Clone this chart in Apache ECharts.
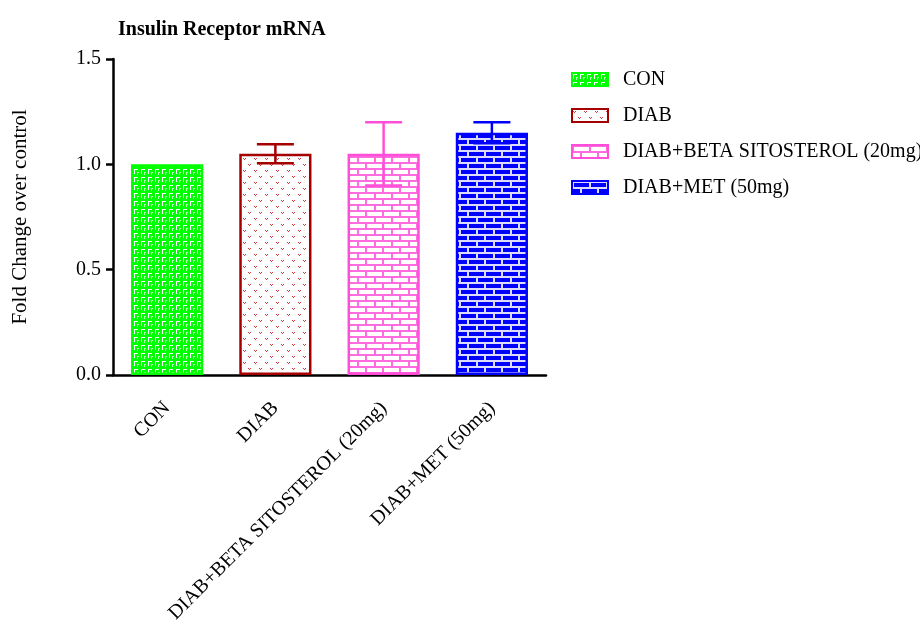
<!DOCTYPE html>
<html>
<head>
<meta charset="utf-8">
<script src="https://cdn.jsdelivr.net/npm/echarts@6/dist/echarts.min.js"></script>
<style>
  html, body { margin: 0; padding: 0; background: #ffffff; }
  #chart { width: 920px; height: 640px; }
</style>
</head>
<body>
<div id="chart"></div>
<script>
// Groups, mean fold change and SEM for insulin receptor mRNA
const categories = ['CON', 'DIAB', 'DIAB+BETA SITOSTEROL (20mg)', 'DIAB+MET (50mg)'];
const means = [1.00, 1.05, 1.05, 1.15];
const sems = [0.00, 0.045, 0.15, 0.05];
const yTicks = [0, 0.5, 1.0, 1.5];

const edgeColors = ['#00ff00', '#a50000', '#ff4fd8', '#0000ff'];
const FONT = '"Liberation Serif", "Times New Roman", serif';

function makeTile(w, h, draw) {
  const c = document.createElement('canvas');
  c.width = w; c.height = h;
  draw(c.getContext('2d'));
  return { image: c, repeat: 'repeat' };
}

// Green: small white hooked dashes on solid green
const greenFill = makeTile(7, 8, g => {
  g.fillStyle = '#00ff00'; g.fillRect(0, 0, 7, 8);
  g.fillStyle = '#ffffff';
  g.fillRect(1, 1, 4, 1);
  g.fillRect(1, 2, 1, 4);
  g.fillStyle = 'rgba(255,255,255,0.7)';
  g.fillRect(4, 4, 2, 1);
  g.fillRect(4, 5, 1, 2);
});

// Dark red: small red "v" marks on white, staggered rows
const redFill = makeTile(11, 12, g => {
  g.fillStyle = '#ffffff'; g.fillRect(0, 0, 11, 12);
  g.fillStyle = '#d23a3a';
  const v = (x, y) => {
    g.fillRect(x, y, 1, 1); g.fillRect(x + 2, y, 1, 1); g.fillRect(x + 1, y + 1, 1, 1);
  };
  v(1, 2); v(6, 8);
});

// Brick pattern helper
function brick(bg, line, lw) {
  return makeTile(34, 12, g => {
    g.fillStyle = bg; g.fillRect(0, 0, 34, 12);
    g.fillStyle = line;
    g.fillRect(0, 0, 34, lw);
    g.fillRect(0, 6, 34, lw);
    g.fillRect(0, 0, lw, 6);
    g.fillRect(17, 0, lw, 6);
    g.fillRect(8, 6, lw, 6);
    g.fillRect(25, 6, lw, 6);
  });
}
const pinkFill = brick('#ffffff', '#ff6ce0', 2);
const blueFill = brick('#0000ff', '#dcdcff', 2);
const fills = [greenFill, redFill, pinkFill, blueFill];

const barSeries = categories.map((name, i) => ({
  name: name,
  type: 'bar',
  barWidth: '66.7%',
  barGap: '-100%',
  data: categories.map((_, j) => (j === i ? means[j] : null)),
  itemStyle: {
    color: fills[i],
    borderColor: edgeColors[i],
    borderWidth: 2.5
  },
  z: 2
}));

const errorSeries = {
  type: 'custom',
  name: 'SEM',
  z: 5,
  silent: true,
  data: categories.map((_, i) => [i, means[i], sems[i]]),
  renderItem: function (params, api) {
    const idx = api.value(0);
    const m = api.value(1);
    const s = api.value(2);
    if (!s) return null;
    const hi = api.coord([idx, m + s]);
    const lo = api.coord([idx, m - s]);
    const half = 18.5;
    const style = { stroke: edgeColors[idx], lineWidth: 2.5 };
    return {
      type: 'group',
      children: [
        { type: 'line', shape: { x1: hi[0], y1: hi[1], x2: lo[0], y2: lo[1] }, style: style },
        { type: 'line', shape: { x1: hi[0] - half, y1: hi[1], x2: hi[0] + half, y2: hi[1] }, style: style },
        { type: 'line', shape: { x1: lo[0] - half, y1: lo[1], x2: lo[0] + half, y2: lo[1] }, style: style }
      ]
    };
  }
};

const chart = echarts.init(document.getElementById('chart'), null, { renderer: 'canvas' });
chart.setOption({
  backgroundColor: '#ffffff',
  animation: false,
  title: {
    text: 'Insulin Receptor mRNA',
    left: 113,
    top: 15,
    textStyle: { fontFamily: FONT, fontSize: 20, fontWeight: 'bold', color: '#000000' }
  },
  legend: {
    orient: 'vertical',
    left: 566,
    top: 64,
    itemWidth: 36,
    itemHeight: 13,
    itemGap: 15,
    icon: 'rect',
    data: categories,
    textStyle: { fontFamily: FONT, fontSize: 20, color: '#000000', lineHeight: 21, padding: [0, 0, 0, 10] }
  },
  grid: { left: 113, right: 374, top: 59, bottom: 265, containLabel: false },
  xAxis: {
    type: 'category',
    data: categories,
    axisLine: { lineStyle: { color: '#000000', width: 2.5 } },
    axisTick: { alignWithLabel: true, length: 8, lineStyle: { color: '#000000', width: 2.5 } },
    axisLabel: { rotate: 45, margin: 30, interval: 0, fontFamily: FONT, fontSize: 20, color: '#000000' }
  },
  yAxis: {
    type: 'value',
    min: yTicks[0],
    max: yTicks[yTicks.length - 1],
    interval: 0.5,
    name: 'Fold Change over control',
    nameLocation: 'middle',
    nameRotate: 90,
    nameGap: 82,
    nameTextStyle: { fontFamily: FONT, fontSize: 21, color: '#000000' },
    axisLine: { show: true, lineStyle: { color: '#000000', width: 2.5 } },
    axisTick: { show: true, length: 7, lineStyle: { color: '#000000', width: 2.5 } },
    splitLine: { show: false },
    axisLabel: {
      margin: 12,
      fontFamily: FONT, fontSize: 20, color: '#000000',
      formatter: v => v.toFixed(1)
    }
  },
  series: barSeries.concat([errorSeries])
});
</script>
</body>
</html>
